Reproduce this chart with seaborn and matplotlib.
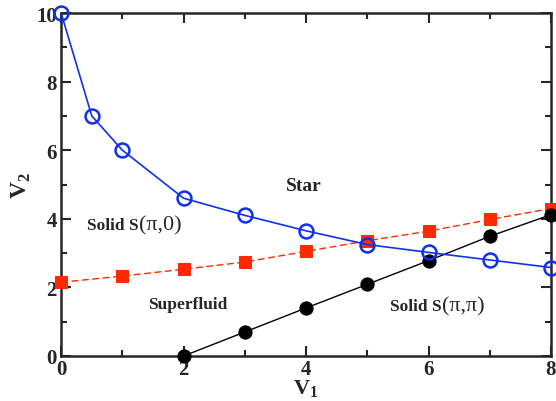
import numpy as np
import pandas as pd
import matplotlib
matplotlib.use("Agg")
import matplotlib.pyplot as plt
import seaborn as sns

# phase boundaries
star_v1 = [0, 0.5, 1, 2, 3, 4, 5, 6, 7, 8]
star_v2 = [10, 7, 6, 4.6, 4.1, 3.65, 3.25, 3.02, 2.8, 2.58]

sf_v1 = [0, 1, 2, 3, 4, 5, 6, 7, 8]
sf_v2 = [2.15, 2.33, 2.53, 2.74, 3.05, 3.36, 3.64, 3.98, 4.3]

spp_v1 = [2, 3, 4, 5, 6, 7, 8]
spp_v2 = [0, 0.7, 1.4, 2.09, 2.78, 3.49, 4.12]

sns.set_style("ticks")
plt.rcParams['font.family'] = ['Liberation Serif', 'DejaVu Serif']
plt.rcParams['mathtext.fontset'] = 'custom'
plt.rcParams['mathtext.rm'] = 'Liberation Serif'
plt.rcParams['mathtext.bf'] = 'Liberation Serif:bold'

fig, ax = plt.subplots(figsize=(5.56, 4.02), dpi=100)
fig.subplots_adjust(left=0.11, right=0.991, top=0.965, bottom=0.112)

sns.lineplot(x=star_v1, y=star_v2, ax=ax, color='#1030f0', lw=1.2,
             marker='o', ms=10, mfc='none', mec='#1030f0', mew=1.8,
             clip_on=False, zorder=4)
sns.lineplot(x=sf_v1, y=sf_v2, ax=ax, color='#ff2a00', lw=1.0, ls=(0, (5, 2.5)),
             marker='s', ms=8.5, mfc='#ff2a00', mec='#ff2a00',
             clip_on=False, zorder=3)
sns.lineplot(x=spp_v1, y=spp_v2, ax=ax, color='black', lw=1.0,
             marker='o', ms=9.5, mfc='black', mec='black',
             clip_on=False, zorder=3)

ax.set_xlim(0, 8)
ax.set_ylim(0, 10)
ax.set_xticks([0, 2, 4, 6, 8])
ax.set_xticks([1, 3, 5, 7], minor=True)
ax.set_yticks([0, 2, 4, 6, 8, 10])
ax.set_yticks([1, 3, 5, 7, 9], minor=True)
ax.tick_params(which='both', direction='in', top=True, right=True, width=1.5)
ax.tick_params(which='major', length=7, labelsize=15, pad=3)
ax.tick_params(axis='x', which='major', pad=2)
ax.tick_params(which='minor', length=4)
for lab in ax.get_xticklabels() + ax.get_yticklabels():
    lab.set_fontweight('bold')
for s in ax.spines.values():
    s.set_linewidth(1.8)

ax.set_xlabel(r'$\mathbf{V}_\mathbf{1}$', fontsize=16, labelpad=-1)
ax.set_ylabel(r'$\mathbf{V}_\mathbf{2}$', fontsize=17, labelpad=2)

ax.text(3.96, 4.96, 'Star', ha='center', va='center', fontsize=14, fontweight='bold')
ax.text(2.07, 1.52, 'Superfluid', ha='center', va='center', fontsize=12.5, fontweight='bold')

kw = dict(fontsize=12.5, fontweight='bold')
t1 = ax.text(0.42, 3.82, 'Solid S', ha='left', va='center', **kw)
ax.annotate('(π,0)', xy=(1, 0.5), xycoords=t1, ha='left', va='center', fontsize=16)
t2 = ax.text(5.37, 1.46, 'Solid S', ha='left', va='center', **kw)
ax.annotate('(π,π)', xy=(1, 0.5), xycoords=t2, ha='left', va='center', fontsize=16)

fig.savefig('out.png', dpi=100)
